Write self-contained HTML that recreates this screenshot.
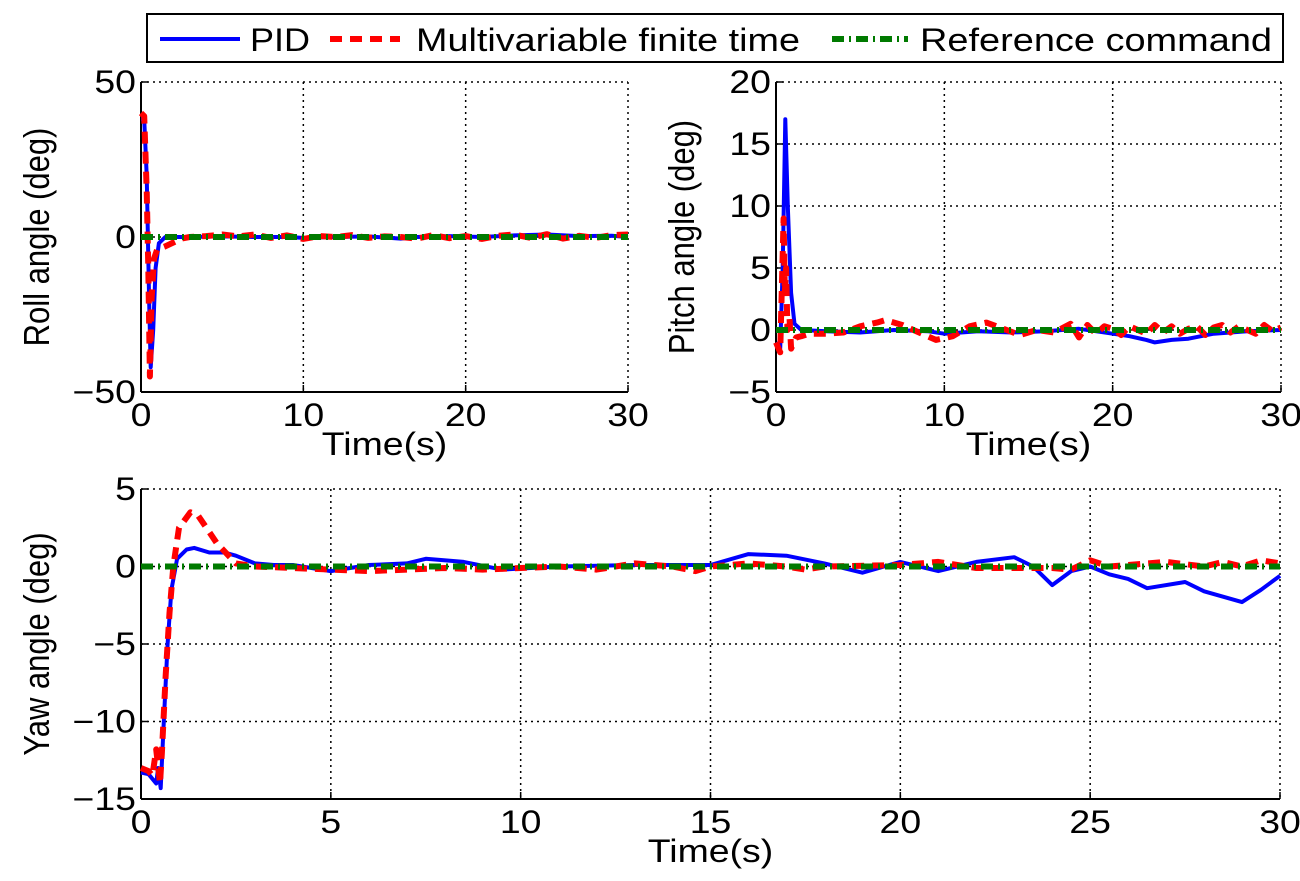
<!DOCTYPE html>
<html><head><meta charset="utf-8"><style>
body{margin:0;background:#fff;}
svg text{font-family:"Liberation Sans",sans-serif;fill:#000;}
</style></head><body>
<svg id="fig" width="1300" height="876" viewBox="0 0 1300 876" xmlns="http://www.w3.org/2000/svg">
<g id="legend">
<rect x="147" y="14" width="1136" height="48" fill="#fff" stroke="#000" stroke-width="2"/>
<g><line x1="160" y1="39" x2="240" y2="39" stroke="#0000ff" stroke-width="4"/><text x="250" y="51" font-size="32" textLength="60" lengthAdjust="spacingAndGlyphs">PID</text></g>
<g><line x1="330" y1="39" x2="400" y2="39" stroke="#ff0000" stroke-width="6" stroke-dasharray="12,8"/><text x="416" y="51" font-size="32" textLength="384" lengthAdjust="spacingAndGlyphs">Multivariable finite time</text></g>
<g><line x1="832" y1="39" x2="908" y2="39" stroke="#007a00" stroke-width="6" stroke-dasharray="12,5,2,5"/><text x="920" y="51" font-size="32" textLength="352" lengthAdjust="spacingAndGlyphs">Reference command</text></g>
</g>
</svg>
<script>
// ---- Roll data ----
const rollPidT=[0,0.2,0.35,0.5,0.6,0.75,0.9,1.1,1.5,3,5,7,9,10,12,14,16,17,19,21,23,25,27,29,30];
const rollPidV=[38,38,20,-20,-42,-30,-10,-2,0,0,0.2,0,0,-0.3,0,0.2,-0.5,0,0.3,0,0.5,0.8,0.3,0.4,0];
const rollMftT=[0,0.2,0.35,0.45,0.55,0.65,0.8,1,1.5,2.5,3,4,5,6,7,8,9,10,11,12,13,14,15,16,17,18,19,20,21,22,23,24,25,26,27,28,29,30];
const rollMftV=[40,39,15,-10,-45,-20,-7,-4,-3,-0.5,0,0.3,0.8,0.2,0.8,-0.3,0.5,-0.6,0.3,0,0.6,-0.3,0.2,0,-0.5,0.6,-0.4,0.3,-0.6,0.4,0.8,-0.3,0.9,-0.5,0.4,-0.3,0.6,0.8];
// ---- Pitch data ----
const pitchPidT=[0,0.25,0.4,0.55,0.7,0.9,1.1,1.5,3,5,7,9,10,12,14,16,18,20,21,22,22.5,23.5,24.5,26,28,30];
const pitchPidV=[-1,-1.5,5,17,10,3,0.5,0,-0.1,-0.2,0,-0.1,-0.3,-0.1,-0.2,-0.1,0.1,-0.3,-0.5,-0.8,-1,-0.8,-0.7,-0.3,-0.1,0];
const pitchMftT=[0,0.25,0.45,0.52,0.6,0.68,0.8,0.9,1.2,1.5,2,3,4,5,6,6.5,7.5,8.5,9.5,10.5,11.5,12.5,13.5,14.5,15.5,16.5,17.5,18,18.5,19,19.5,20,20.5,21,21.5,22,22.5,23,23.5,24,24.5,25,25.5,26,26.5,27,27.5,28,28.5,29,29.5,30];
const pitchMftV=[-1,-1.8,9,3,5,0,1,-1.5,-0.6,-0.5,-0.3,-0.3,-0.2,0.3,0.6,0.8,0.4,-0.2,-0.8,-0.5,0.3,0.6,0.1,-0.4,0,-0.2,0.5,-0.6,0.4,-0.3,0.3,0.1,-0.4,0.3,0,-0.3,0.4,-0.2,0.3,-0.3,0.1,0.3,-0.4,0.2,0.4,-0.2,0.3,0,-0.3,0.4,-0.1,0.2];
// ---- Yaw data ----
const yawPidT=[0,0.2,0.4,0.45,0.52,0.6,0.7,0.8,0.95,1.2,1.4,1.8,2.2,2.5,3,3.5,4,5,6,7,7.5,8.5,9.5,11,13,15,16,17,18,19,20,21,22,23,23.5,24,24.5,25,25.5,26,26.5,27.5,28,29,29.5,30];
const yawPidV=[-13.3,-13.4,-14,-13,-14.3,-10,-5,-1.5,0.5,1.1,1.2,0.9,0.9,0.7,0.2,0.1,0.1,-0.3,0.1,0.2,0.5,0.3,-0.2,0,0.1,0.1,0.8,0.7,0.2,-0.4,0.3,-0.3,0.3,0.6,0,-1.2,-0.3,0,-0.5,-0.8,-1.4,-1,-1.6,-2.3,-1.5,-0.6];
const yawMftT=[0,0.2,0.3,0.4,0.5,0.55,0.65,0.75,0.85,1.0,1.3,1.5,2.0,2.5,3,4,5,6,7,8,9,10,11,12,13,14,14.6,15,16,17,17.5,18,20,21,22,24,24.5,25,25.5,27,28,28.5,29,29.5,30];
const yawMftV=[-13,-13.2,-13.5,-11.8,-14,-12,-7,-3,0,2.5,3.5,3.3,1.5,0.2,0,-0.1,-0.2,-0.3,-0.2,-0.1,-0.2,-0.1,0,-0.2,0.2,0,-0.3,0,0.2,0,-0.2,0,0.1,0.3,-0.1,-0.1,-0.2,0.4,0,0.3,0,0.3,0,0.4,0.2];
const refT=[0,30];
const refV=[0,0];
const rollTicksY=[-50,0,50], pitchTicksY=[-5,0,5,10,15,20], yawTicksY=[-15,-10,-5,0,5];
const topTicksX=[0,10,20,30], yawTicksX=[0,5,10,15,20,25,30];

const NS="http://www.w3.org/2000/svg", svg=document.getElementById('fig');
const SX=1.17;
function mk(tag,attrs,parent){const e=document.createElementNS(NS,tag);for(const k in attrs)e.setAttribute(k,attrs[k]);(parent||svg).appendChild(e);return e;}
function txt(parent,x,y,str,anchor,name){
  const t=mk('text',{x:0,y:0,'font-size':32,'text-anchor':anchor,transform:'translate('+x+' '+y+') scale('+SX+' 1)'},parent);
  t.textContent=str;
  
  
  return t;
}
function panel(name,box,xd,yd,xt,yt,ylabel,series){
  const [L,T,R,B]=box;
  const sx=v=>L+(v-xd[0])/(xd[1]-xd[0])*(R-L);
  const sy=v=>B-(v-yd[0])/(yd[1]-yd[0])*(B-T);
  const g=mk('g',{});
  
  
  xt.forEach(v=>{const x=sx(v);
    if(v!==xd[0]&&v!==xd[1]){const l=mk('line',{x1:x,y1:T,x2:x,y2:B,stroke:'#000','stroke-width':1.5,'stroke-dasharray':'2,4'},g);}
    mk('line',{x1:x,y1:B,x2:x,y2:B-7,stroke:'#000','stroke-width':1.5},g);
    txt(g,x,B+34,String(v),'middle','x-tick-label');});
  yt.forEach(v=>{const y=sy(v);
    if(v!==yd[0]&&v!==yd[1]){const l=mk('line',{x1:L,y1:y,x2:R,y2:y,stroke:'#000','stroke-width':1.5,'stroke-dasharray':'2,4'},g);}
    mk('line',{x1:L,y1:y,x2:L+7,y2:y,stroke:'#000','stroke-width':1.5},g);
    txt(g,L-5,y+11,(v<0?'\u2212'+(-v):String(v)),'end','y-tick-label');});
  mk('line',{x1:L,y1:T,x2:R,y2:T,stroke:'#000','stroke-width':1.5,'stroke-dasharray':'2,4'},g);
  mk('line',{x1:R,y1:T,x2:R,y2:B,stroke:'#000','stroke-width':1.5,'stroke-dasharray':'2,4'},g);
  mk('line',{x1:L,y1:B,x2:R,y2:B,stroke:'#000','stroke-width':2},g);
  mk('line',{x1:L,y1:T,x2:L,y2:B,stroke:'#000','stroke-width':2},g);
  series.forEach(s=>{const pts=s.t.map((t,i)=>sx(t).toFixed(1)+','+sy(s.v[i]).toFixed(1)).join(' ');
    const p=mk('polyline',{points:pts,fill:'none',stroke:s.c,'stroke-width':s.w,'stroke-dasharray':s.d||'none','stroke-linejoin':'round'},g);
    
    });
  txt(g,(L+R)/2,B+63,'Time(s)','middle','x-axis-title');
  const cy=(T+B)/2, cx=L-ylabel[1];
  const yl=mk('text',{x:0,y:0,'font-size':31,'text-anchor':'middle',transform:'translate('+cx+' '+cy+') scale('+SX+' 1) rotate(-90)'},g);yl.textContent=ylabel[0];
  
}
const ser=(pt,pv,mt,mv)=>[
 {n:'pid',t:pt,v:pv,c:'#0000ff',w:4},
 {n:'mft',t:mt,v:mv,c:'#ff0000',w:6,d:'12,8'},
 {n:'reference',t:refT,v:refV,c:'#007a00',w:6,d:'12,5,2,5'}];
panel('roll',[141,82,628,392],[0,30],[-50,50],topTicksX,rollTicksY,['Roll angle (deg)',92],ser(rollPidT,rollPidV,rollMftT,rollMftV));
panel('pitch',[776,82,1281,392],[0,30],[-5,20],topTicksX,pitchTicksY,['Pitch angle (deg)',82],ser(pitchPidT,pitchPidV,pitchMftT,pitchMftV));
panel('yaw',[141,489,1280,799],[0,30],[-15,5],yawTicksX,yawTicksY,['Yaw angle (deg)',92],ser(yawPidT,yawPidV,yawMftT,yawMftV));
</script>
</body></html>
